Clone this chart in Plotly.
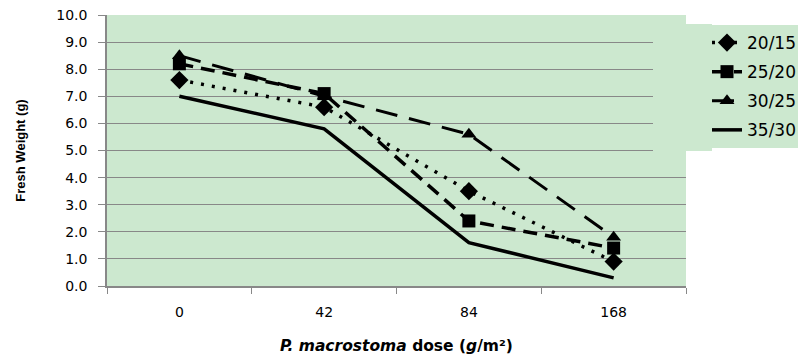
import plotly.graph_objects as go

doses = ["0", "42", "84", "168"]
s20_15 = [7.6, 6.6, 3.5, 0.9]
s25_20 = [8.2, 7.1, 2.4, 1.4]
s30_25 = [8.5, 7.0, 5.6, 1.8]
s35_30 = [7.0, 5.8, 1.6, 0.3]
names = ["20/15", "25/20", "30/25", "35/30"]
y_ticks = [0, 1, 2, 3, 4, 5, 6, 7, 8, 9, 10]

W, H = 798, 360
L, R, T, B = 107, 686, 15, 286
BG = "rgb(204,232,207)"

fig = go.Figure()
styles = [
    (s20_15, dict(dash="3px,8px", width=3.5), dict(symbol="diamond", size=14, color="black")),
    (s25_20, dict(dash="14px,8px", width=3.5), dict(symbol="square", size=13, color="black")),
    (s30_25, dict(dash="22px,12px", width=3), dict(symbol="triangle-up", size=13, color="black")),
    (s35_30, dict(dash="solid", width=3.5), None),
]
for name, (vals, line, marker) in zip(names, styles):
    fig.add_trace(go.Scatter(
        x=doses, y=vals, name=name, legendgroup=name,
        mode="lines+markers" if marker else "lines",
        line=dict(color="black", **line),
        marker=marker,
    ))

def px_x(px):
    return (px - L) / (R - L)

def px_y(py):
    return (B - py) / (B - T)

fig.add_shape(type="rect", xref="paper", yref="paper",
              x0=px_x(653), x1=px_x(712), y0=px_y(151), y1=px_y(24),
              fillcolor=BG, line=dict(width=0), layer="above")

fig.update_layout(
    width=W, height=H,
    margin=dict(l=L, r=W - R, t=T, b=H - B, autoexpand=False),
    paper_bgcolor="white", plot_bgcolor=BG,
    font=dict(family="DejaVu Sans", color="black"),
    showlegend=True,
    legend=dict(
        x=px_x(707), y=px_y(25), xanchor="left", yanchor="top",
        bgcolor=BG, borderwidth=0, font=dict(size=17, family="DejaVu Sans"),
        tracegroupgap=4, traceorder="grouped",
    ),
    xaxis=dict(
        type="category", tickson="boundaries", ticks="outside", ticklen=6,
        tickcolor="#888", showline=True, linecolor="#888", linewidth=1.5,
        showgrid=False, tickfont=dict(size=14, family="DejaVu Sans"),
        ticklabelstandoff=12,
        title=dict(text="<b><i>P. macrostoma</i> dose (<i>g</i>/m²)</b>",
                   font=dict(size=15.5, family="DejaVu Sans"), standoff=22),
        range=[-0.5, 3.5],
    ),
    yaxis=dict(
        range=[0, 10], tickvals=y_ticks, tickformat=".1f",
        ticks="outside", ticklen=7, tickcolor="#888",
        showline=True, linecolor="#888", linewidth=1.5,
        showgrid=True, gridcolor="#888", gridwidth=1,
        zeroline=False, tickfont=dict(size=14, family="DejaVu Sans"),
        ticklabelstandoff=8,
        title=dict(text="<b>Fresh Weight (g)</b>",
                   font=dict(size=13, family="Liberation Sans"), standoff=28),
    ),
)

fig.write_html("out.html")
